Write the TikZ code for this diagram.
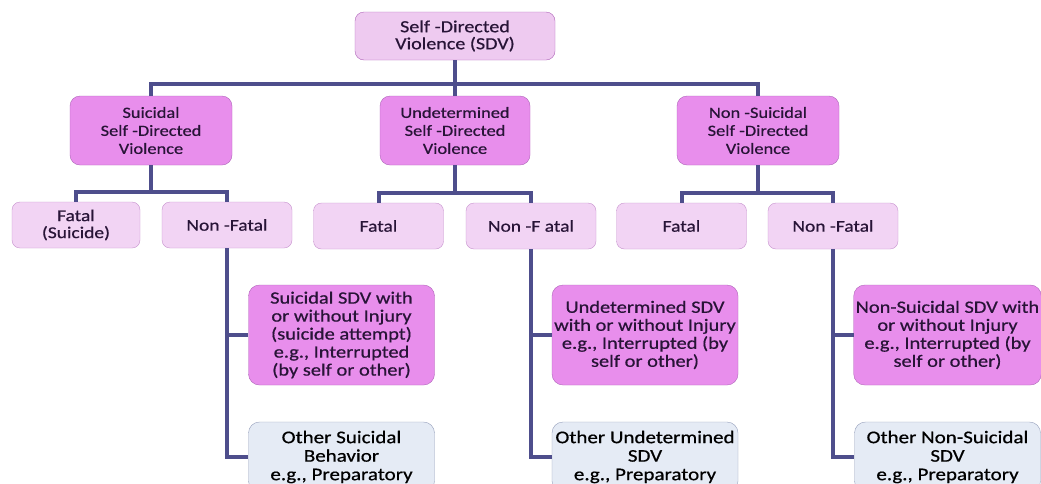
\documentclass[tikz,border=0pt]{standalone}
\usepackage{fontspec}
\setmainfont{Carlito}[FakeStretch=1.18, FakeBold=0.6]
\usepackage{xcolor}
\usetikzlibrary{shapes,arrows,positioning,calc}

\definecolor{busline}{RGB}{78,78,140}
\definecolor{inkdark}{RGB}{40,20,55}
\definecolor{rootfill}{RGB}{238,202,240}
\definecolor{typefill}{RGB}{232,142,236}
\definecolor{typeedge}{RGB}{175,100,185}
\definecolor{leaffill}{RGB}{242,212,244}
\definecolor{otherfill}{RGB}{229,235,245}
\definecolor{otheredge}{RGB}{150,160,188}

\begin{document}
\begin{tikzpicture}[x=1pt, y=-1pt,
    root/.style={rectangle, draw=typeedge, fill=rootfill, text=inkdark, align=center, rounded corners=9pt, minimum width=200pt, minimum height=48pt, inner sep=2pt, font=\fontsize{17}{17}\selectfont},
    sdvtype/.style={rectangle, draw=typeedge, fill=typefill, text=inkdark, align=center, rounded corners=10pt, minimum width=162pt, minimum height=69pt, inner sep=2pt, font=\fontsize{15.6}{18}\selectfont},
    outcome/.style={rectangle, draw=typeedge!70, fill=leaffill, text=inkdark, align=center, rounded corners=8pt, minimum width=130pt, minimum height=46pt, inner sep=2pt, font=\fontsize{16.5}{17}\selectfont},
    detail/.style={rectangle, draw=typeedge, fill=typefill, text=inkdark, align=center, rounded corners=11pt, minimum width=186pt, minimum height=100pt, inner sep=2pt, font=\fontsize{17.3}{18}\selectfont},
    other/.style={rectangle, draw=otheredge, fill=otherfill, text=black, align=center, rounded corners=11pt, minimum width=186pt, minimum height=70pt, inner sep=2pt, font=\fontsize{17.8}{18.5}\selectfont},
    line/.style={draw=busline, line width=4pt, line join=miter}]

    \clip (0,0) rectangle (1041,483);
    \fill[white] (0,0) rectangle (1041,483);

    % Top: SDV
    \node [root] (sdv) at (455,36) {Self -Directed\\Violence (SDV)};

    % Second row
    \node [sdvtype] (suic) at (151,130.5) {Suicidal\\Self -Directed\\Violence};
    \node [sdvtype, minimum width=150pt] (undet) at (455,130.5) {Undetermined\\Self -Directed\\Violence};
    \node [sdvtype] (nonsuic) at (758,130.5) {Non -Suicidal\\Self -Directed\\Violence};

    % Third row
    \node [outcome, minimum width=128pt] (s_fatal) at (76,225) {Fatal\\(Suicide)};
    \node [outcome] (s_nonfatal) at (227,225) {Non -Fatal};
    \node [outcome] (u_fatal) at (378.5,226) {Fatal};
    \node [outcome] (u_nonfatal) at (531,226) {Non -F atal};
    \node [outcome] (n_fatal) at (681.5,226) {Fatal};
    \node [outcome] (n_nonfatal) at (833,226) {Non -Fatal};

    % Non-fatal details
    \node [detail] (s_detail) at (341.5,335) {Suicidal SDV with\\or without Injury\\(suicide attempt)\\e.g., Interrupted\\(by self or other)};
    \node [detail] (u_detail) at (645,335) {Undetermined SDV\\with or without Injury\\e.g., Interrupted (by\\self or other)};
    \node [detail] (n_detail) at (947.5,335) {Non-Suicidal SDV with\\or without Injury\\e.g., Interrupted (by\\self or other)};

    \node [other] (s_other) at (341.5,457) {Other Suicidal\\Behavior\\e.g., Preparatory};
    \node [other] (u_other) at (645,457) {Other Undetermined\\SDV\\e.g., Preparatory};
    \node [other] (n_other) at (947.5,457) {Other Non-Suicidal\\SDV\\e.g., Preparatory};

    % Connectors
    \draw [line] (sdv) -- (undet);
    \draw [line] (suic.north) -- ++(0,-12) -| (nonsuic.north);

    \draw [line] (s_fatal.north) -- ++(0,-10) -| (s_nonfatal.north);
    \draw [line] (suic.south) -- ($(suic.south |- s_fatal.north)+(0,-10)$);
    \draw [line] (u_fatal.north) -- ++(0,-10) -| (u_nonfatal.north);
    \draw [line] (undet.south) -- ($(undet.south |- u_fatal.north)+(0,-10)$);
    \draw [line] (n_fatal.north) -- ++(0,-10) -| (n_nonfatal.north);
    \draw [line] (nonsuic.south) -- ($(nonsuic.south |- n_fatal.north)+(0,-10)$);

    \draw [line] (s_nonfatal.south) |- (s_other.west);
    \draw [line] (s_nonfatal.south |- s_detail.west) -- (s_detail.west);
    \draw [line] (u_nonfatal.south) |- (u_other.west);
    \draw [line] (u_nonfatal.south |- u_detail.west) -- (u_detail.west);
    \draw [line] (n_nonfatal.south) |- (n_other.west);
    \draw [line] (n_nonfatal.south |- n_detail.west) -- (n_detail.west);
\end{tikzpicture}
\end{document}
